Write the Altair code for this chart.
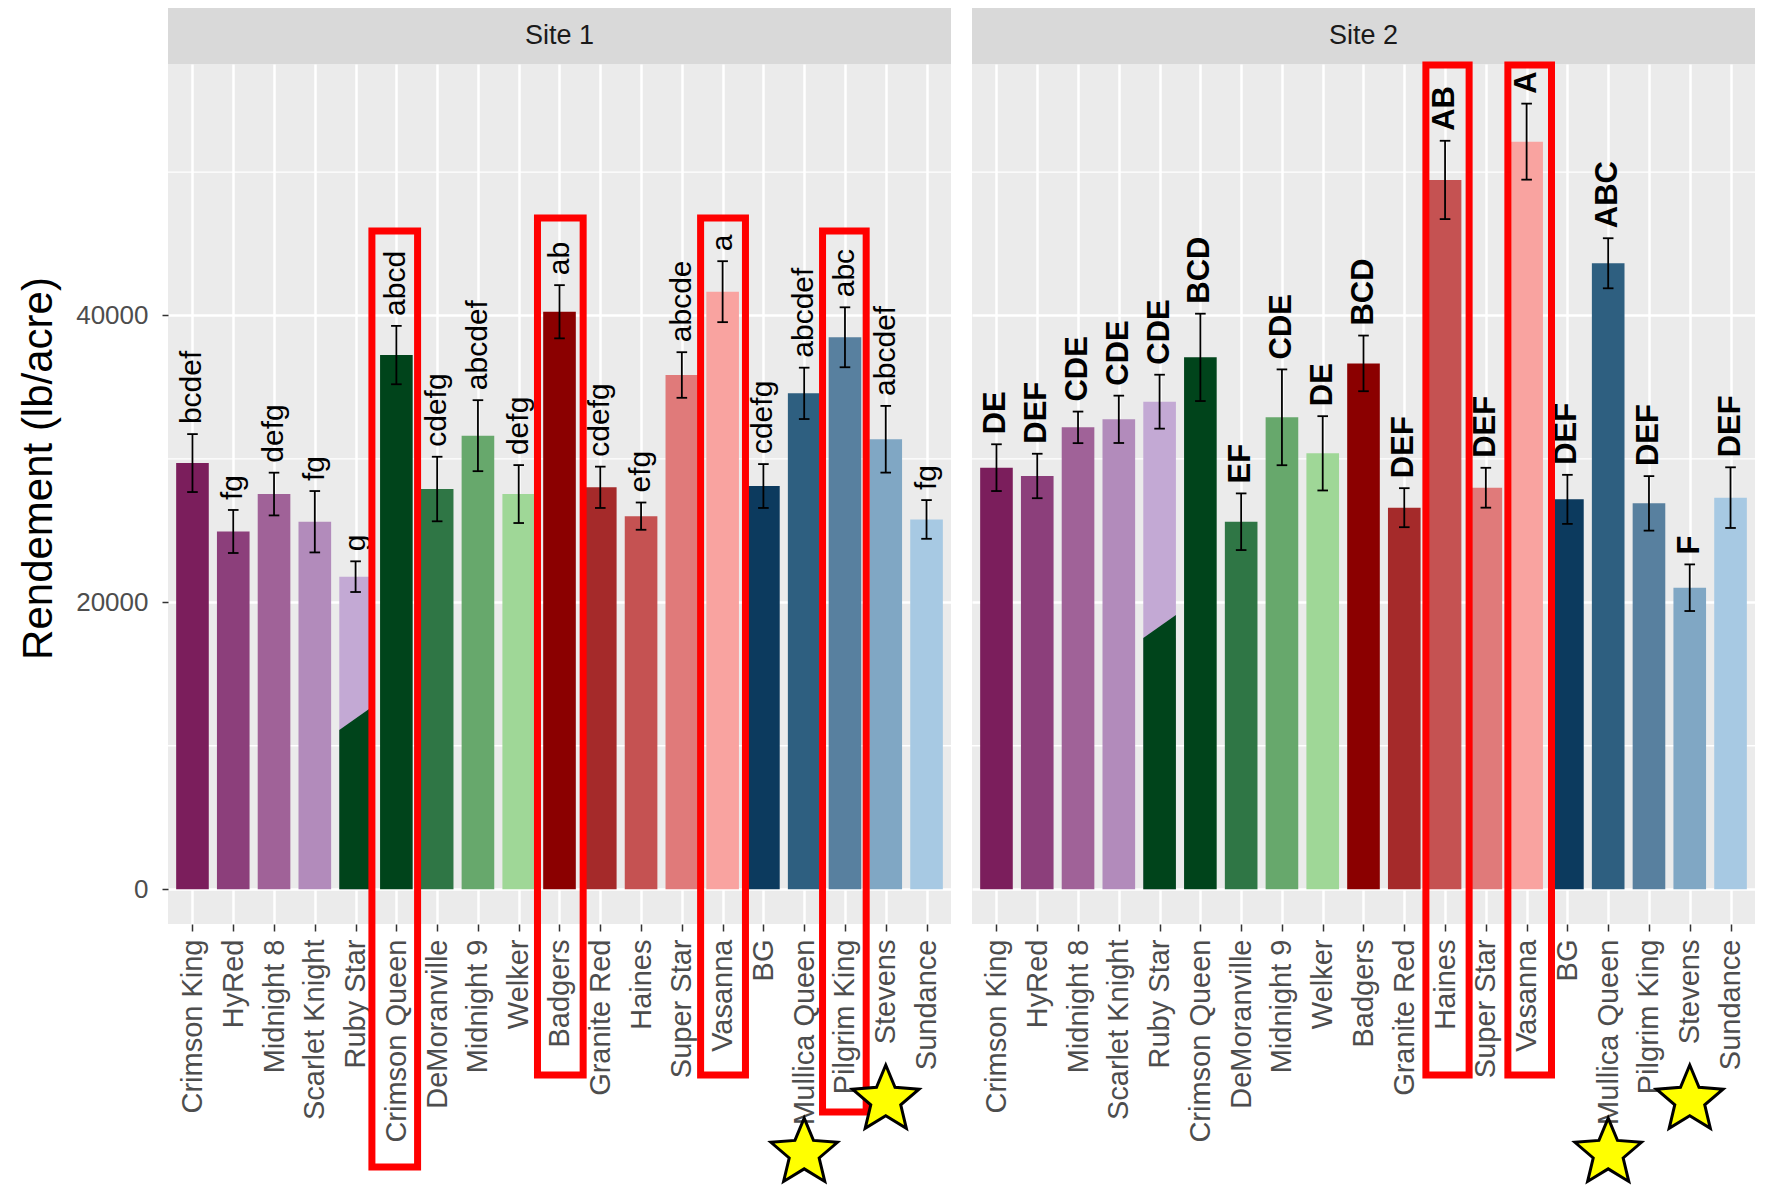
import json
import altair as alt
import pandas as pd

# ---------------- data ----------------
varieties = ["Crimson King", "HyRed", "Midnight 8", "Scarlet Knight", "Ruby Star",
             "Crimson Queen", "DeMoranville", "Midnight 9", "Welker", "Badgers",
             "Granite Red", "Haines", "Super Star", "Vasanna", "BG",
             "Mullica Queen", "Pilgrim King", "Stevens", "Sundance"]
bar_colors = ["#7B1E5C", "#8C3F7B", "#A06298", "#B28BBB", "#C3A9D4",
              "#00441B", "#2F7645", "#67A86C", "#9FD797", "#8B0000",
              "#A52A2A", "#C55252", "#E07A7A", "#F9A3A0", "#0C3A5E",
              "#2E5F80", "#58809F", "#80A7C4", "#A7C9E3"]

site1_mean = [29710, 24940, 27550, 25620, 21790, 37240, 27900, 31620, 27550, 40260,
              28020, 26010, 35850, 41660, 28110, 34570, 38480, 31370, 25780]
site1_se = [2020, 1500, 1490, 2140, 1070, 2035, 2250, 2475, 2020, 1855,
            1440, 950, 1590, 2125, 1530, 1790, 2090, 2325, 1350]
site1_letters = ["bcdef", "fg", "defg", "fg", "g", "abcd", "cdefg", "abcdef", "defg", "ab",
                 "cdefg", "efg", "abcde", "a", "cdefg", "abcdef", "abc", "abcdef", "fg"]

site2_mean = [29390, 28810, 32200, 32760, 33990, 37080, 25620, 32900, 30390, 36660,
              26600, 49450, 27990, 52120, 27180, 43640, 26900, 21020, 27300]
site2_se = [1630, 1550, 1100, 1650, 1880, 3045, 1975, 3340, 2590, 1940,
            1360, 2730, 1390, 2650, 1710, 1745, 1900, 1625, 2115]
site2_letters = ["DE", "DEF", "CDE", "CDE", "CDE", "BCD", "EF", "CDE", "DE", "BCD",
                 "DEF", "AB", "DEF", "A", "DEF", "ABC", "DEF", "F", "DEF"]

# dark-green patch inside the Ruby Star bar (left edge, right edge heights)
site1_patch = [11100, 12700]
site2_patch = [17510, 19120]

# red highlight boxes: variety, left/right offsets (in category units), top, bottom
site1_boxes = [("Crimson Queen", -0.60, 0.52, 45890, -19370),
               ("Badgers", -0.54, 0.58, 46800, -12950),
               ("Vasanna", -0.54, 0.56, 46800, -12950),
               ("Pilgrim King", -0.55, 0.52, 45890, -15530)]
site2_boxes = [("Haines", -0.47, 0.59, 57460, -12950),
               ("Vasanna", -0.46, 0.61, 57460, -12950)]
# yellow stars: variety, height
site1_stars = [("Mullica Queen", -18400), ("Stevens", -14700)]
site2_stars = [("Mullica Queen", -18400), ("Stevens", -14700)]

# ---------------- layout / style ----------------
W, H = 783, 860
STRIP = 56
YDOM = [-2426, 57533]
xscale = alt.Scale(domain=[0.4, 19.6], nice=False, zero=False)
yscale = alt.Scale(domain=YDOM, nice=False, zero=False)
STAR = ("M0,-1 L0.2645,-0.364 L0.951,-0.309 L0.428,0.139 L0.588,0.809 "
        "L0,0.45 L-0.588,0.809 L-0.428,0.139 L-0.951,-0.309 L-0.2645,-0.364 Z")
FONT = "Liberation Sans"

label_expr = json.dumps(varieties) + "[datum.value - 1]"
x_axis = alt.Axis(values=list(range(1, 20)), labelExpr=label_expr, labelAngle=270,
                  labelFontSize=29, labelColor="#4D4D4D", labelFont=FONT,
                  tickColor="#333333", tickSize=7, tickWidth=1.5, labelPadding=8,
                  grid=True, gridColor="white", gridWidth=2.5, domain=False,
                  title=None, labelOverlap=False, labelFlush=False, labelLimit=0)


def y_axis(show):
    if show:
        return alt.Axis(values=[0, 20000, 40000], format="d", labelFontSize=26,
                        labelColor="#4D4D4D", labelFont=FONT, tickColor="#333333",
                        tickSize=6, tickWidth=1.5, labelPadding=14, grid=True,
                        gridColor="white", gridWidth=2.5, domain=False,
                        title="Rendement (lb/acre)", titleFontSize=42,
                        titleFontWeight="normal", titleColor="black", titleFont=FONT,
                        titleX=-130, titleY=404, titleAngle=270, titleAlign="center",
                        titleBaseline="middle", titleLimit=0)
    return alt.Axis(values=[0, 20000, 40000], labels=False, ticks=False, domain=False,
                    grid=True, gridColor="white", gridWidth=2.5, title=None)


def panel(name, means, ses, letters, patch, boxes, stars, bold, show_y):
    ya = y_axis(show_y)

    def X(f):
        return alt.X(f, type="quantitative", scale=xscale, axis=x_axis)

    def Y(f):
        return alt.Y(f, type="quantitative", scale=yscale, axis=ya)

    pos = list(range(1, 20))
    df = pd.DataFrame({"variety": varieties, "pos": pos, "mean": means, "se": ses,
                       "letter": letters, "color": bar_colors})
    df["lo"] = df["mean"] - df["se"]
    df["hi"] = df["mean"] + df["se"]
    df["xl"] = df["pos"] - 0.4
    df["xr"] = df["pos"] + 0.4
    df["cl"] = df["pos"] - 0.13
    df["cr"] = df["pos"] + 0.13
    df["zero"] = 0

    minor = alt.Chart(pd.DataFrame({"v": [10000, 30000, 50000]})).mark_rule(
        color="white", strokeWidth=1.3).encode(y=Y("v"))

    bars = alt.Chart(df).mark_rect().encode(
        x=X("xl"), x2="xr:Q", y=Y("zero"), y2="mean:Q",
        color=alt.Color("color:N", scale=None),
    )

    rs = varieties.index("Ruby Star") + 1
    pdf = pd.DataFrame({"x": [rs - 0.4, rs + 0.4], "top": patch, "base": [0, 0]})
    patch_layer = alt.Chart(pdf).mark_area(color="#00441B", orient="vertical",
                                           interpolate="linear").encode(
        x=X("x"), y=Y("top"), y2="base:Q")

    err = alt.Chart(df).mark_rule(color="black", strokeWidth=1.8).encode(
        x=X("pos"), y=Y("lo"), y2="hi:Q")
    cap_hi = alt.Chart(df).mark_rule(color="black", strokeWidth=1.8).encode(
        x=X("cl"), x2="cr:Q", y=Y("hi"))
    cap_lo = alt.Chart(df).mark_rule(color="black", strokeWidth=1.8).encode(
        x=X("cl"), x2="cr:Q", y=Y("lo"))

    txt = alt.Chart(df).mark_text(
        angle=270, align="left", baseline="middle", dx=10,
        fontSize=31 if bold else 30, fontWeight="bold" if bold else "normal",
        font=FONT, color="black").encode(x=X("pos"), y=Y("hi"), text="letter:N")

    one = pd.DataFrame({"k": [0]})
    strip = alt.Chart(one).mark_rect(color="#D9D9D9").encode(
        x=alt.value(0), x2=alt.value(W), y=alt.value(-STRIP), y2=alt.value(0))
    strip_txt = alt.Chart(one).mark_text(text=name, fontSize=27, color="#1A1A1A",
                                         font=FONT, baseline="middle").encode(
        x=alt.value(W / 2), y=alt.value(-STRIP / 2))

    bdf = pd.DataFrame([{"x1": varieties.index(v) + 1 + a, "x2": varieties.index(v) + 1 + b,
                         "y1": t, "y2": btm} for v, a, b, t, btm in boxes])
    box_layer = alt.Chart(bdf).mark_rect(fill="transparent", stroke="#FF0000",
                                         strokeWidth=7).encode(
        x=X("x1"), x2="x2:Q", y=Y("y1"), y2="y2:Q")

    sdf = pd.DataFrame([{"x": varieties.index(v) + 1, "y": yv} for v, yv in stars])
    star_layer = alt.Chart(sdf).mark_point(shape=STAR, filled=True, fill="#FFFF00",
                                           stroke="black", strokeWidth=3, size=4900,
                                           opacity=1).encode(x=X("x"), y=Y("y"))

    return alt.layer(minor, bars, patch_layer, err, cap_hi, cap_lo, txt, strip,
                     strip_txt, box_layer, star_layer).properties(width=W, height=H)


p1 = panel("Site 1", site1_mean, site1_se, site1_letters, site1_patch,
           site1_boxes, site1_stars, False, True)
p2 = panel("Site 2", site2_mean, site2_se, site2_letters, site2_patch,
           site2_boxes, site2_stars, True, False)

chart = alt.hconcat(p1, p2, spacing=19).properties(
    padding={"left": 9, "top": 0, "right": 0, "bottom": 0},
    background="white",
).configure(font=FONT).configure_view(fill="#EBEBEB", strokeWidth=0)

chart.save("out.html", embed_options={"renderer": "svg", "actions": False})
